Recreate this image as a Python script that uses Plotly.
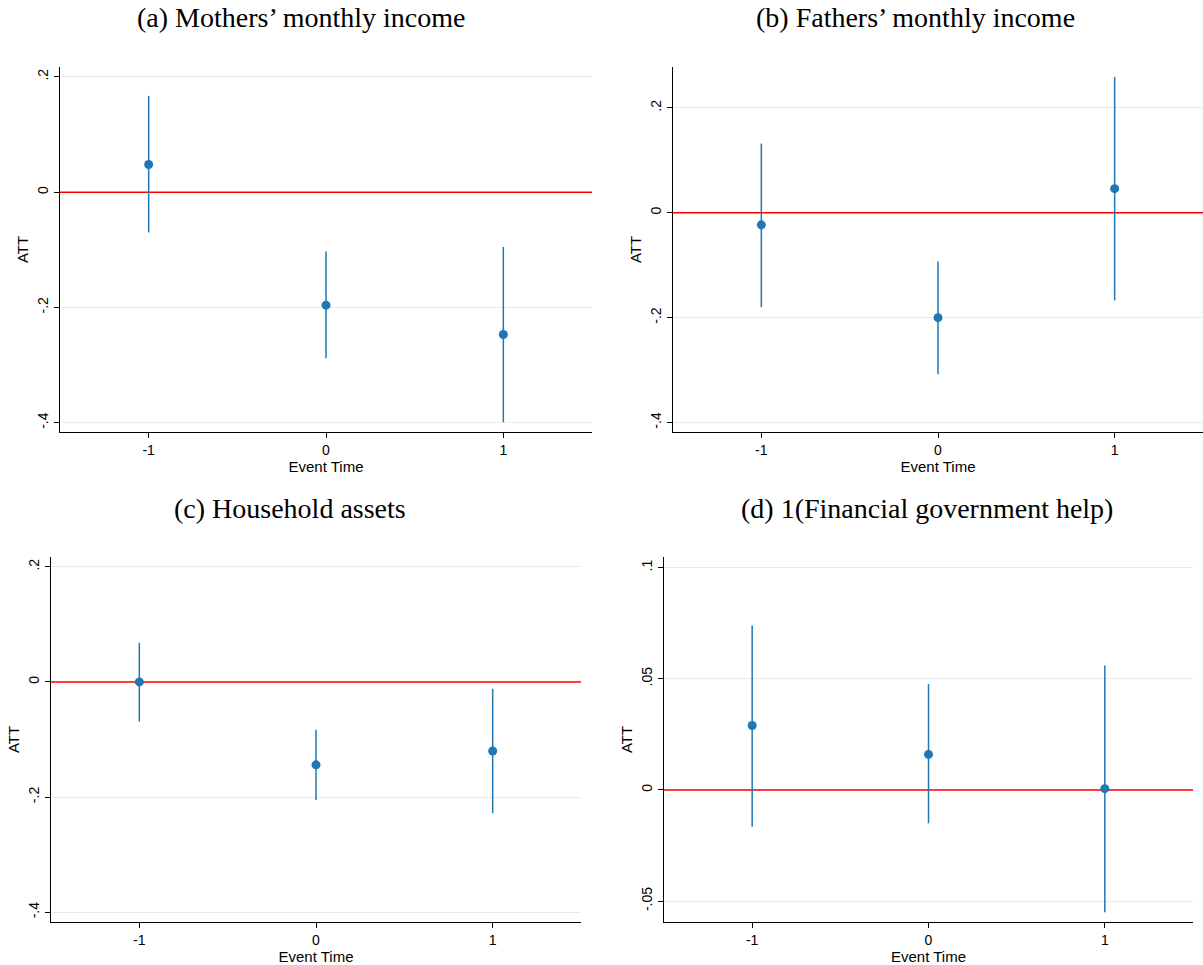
import plotly.graph_objects as go

W, H = 1203, 965

event_time = [-1, 0, 1]
XRANGE = [-1.5, 1.5]

titles = ["(a) Mothers’ monthly income", "(b) Fathers’ monthly income",
          "(c) Household assets", "(d) 1(Financial government help)"]

att_a = [0.048, -0.196, -0.247]
lo_a = [-0.070, -0.288, -0.399]
hi_a = [0.167, -0.103, -0.095]

att_b = [-0.023, -0.200, 0.046]
lo_b = [-0.180, -0.308, -0.167]
hi_b = [0.132, -0.093, 0.259]

att_c = [0.000, -0.144, -0.120]
lo_c = [-0.069, -0.205, -0.228]
hi_c = [0.068, -0.083, -0.012]

att_d = [0.029, 0.016, 0.0006]
lo_d = [-0.0165, -0.015, -0.055]
hi_d = [0.074, 0.0476, 0.056]

yticks_abcd = [[0.2, 0, -0.2, -0.4], [0.2, 0, -0.2, -0.4],
               [0.2, 0, -0.2, -0.4], [0.1, 0.05, 0, -0.05]]
yticktext_abcd = [[".2", "0", "-.2", "-.4"], [".2", "0", "-.2", "-.4"],
                  [".2", "0", "-.2", "-.4"], [".1", ".05", "0", "-.05"]]
yranges = [[-0.416, 0.217], [-0.418, 0.278], [-0.417, 0.217], [-0.0594, 0.1048]]

series = [(att_a, lo_a, hi_a), (att_b, lo_b, hi_b), (att_c, lo_c, hi_c), (att_d, lo_d, hi_d)]

# pixel boxes (left, right, top, bottom)
boxes = [(60, 592, 67, 432), (673, 1203, 67, 432), (51, 581, 557, 922), (664, 1193, 557, 922)]
title_pos = [(301, 18), (915, 18), (290, 508), (927, 508)]

BLUE = "#1f77b4"
fig = go.Figure()
layout = dict(width=W, height=H, margin=dict(l=0, r=0, t=0, b=0),
              paper_bgcolor="white", plot_bgcolor="rgba(0,0,0,0)", showlegend=False,
              font=dict(family="Liberation Sans, Arial, sans-serif", size=14, color="black"))
annotations = []
for i, ((est, lo, hi), box) in enumerate(zip(series, boxes)):
    n = "" if i == 0 else str(i + 1)
    xa, ya = "x" + n, "y" + n
    l, r, t, b = box
    # zero reference line
    fig.add_trace(go.Scatter(x=XRANGE, y=[0, 0], mode="lines", xaxis=xa, yaxis=ya,
                             line=dict(color="red", width=1.5), hoverinfo="skip"))
    fig.add_trace(go.Scatter(
        x=event_time, y=est, mode="markers", xaxis=xa, yaxis=ya,
        marker=dict(color=BLUE, size=9),
        error_y=dict(type="data", symmetric=False,
                     array=[h - e for h, e in zip(hi, est)],
                     arrayminus=[e - q for e, q in zip(est, lo)],
                     color=BLUE, thickness=1.5, width=0)))
    layout["xaxis" + n] = dict(domain=[l / W, r / W], anchor=ya, range=XRANGE,
                               tickvals=event_time, ticktext=[str(v) for v in event_time],
                               showgrid=False, zeroline=False, showline=True,
                               linecolor="black", linewidth=1, ticks="outside",
                               ticklen=5, tickcolor="black",
                               title=dict(text="Event Time", standoff=0,
                                          font=dict(size=15)))
    layout["yaxis" + n] = dict(domain=[1 - b / H, 1 - t / H], anchor=xa, range=yranges[i],
                               tickvals=yticks_abcd[i], ticktext=yticktext_abcd[i],
                               tickangle=-90, showgrid=True, gridcolor="#eaeaea",
                               gridwidth=1, zeroline=False, showline=True,
                               linecolor="black", linewidth=1, ticks="outside",
                               ticklen=5, tickcolor="black",
                               title=dict(text="ATT", standoff=3, font=dict(size=15)))
    tx, ty = title_pos[i]
    annotations.append(dict(text=titles[i], xref="paper", yref="paper", x=tx / W, y=1 - ty / H,
                            xanchor="center", yanchor="middle", showarrow=False,
                            font=dict(family="Liberation Serif, serif", size=28, color="black")))

layout["annotations"] = annotations
fig.update_layout(**layout)
fig.write_html("out.html", config={"displayModeBar": False},
               post_script="document.body.style.margin='0';document.body.style.overflow='hidden';")
